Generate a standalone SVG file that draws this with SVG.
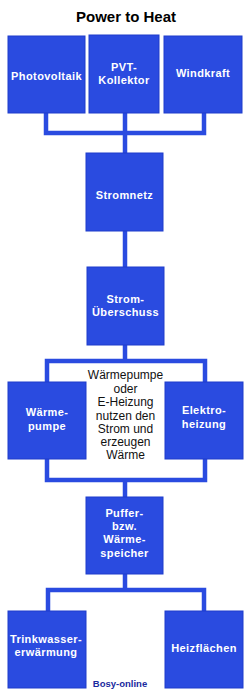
<svg xmlns="http://www.w3.org/2000/svg" width="250" height="692" viewBox="0 0 250 692">
<style>
.box{fill:#2a4be0;stroke:#1f3ccb;stroke-width:1}
.lbl{font-family:"Liberation Sans",Arial,sans-serif;font-weight:bold;font-size:11px;fill:#ffffff;text-anchor:middle;letter-spacing:0.4px}
.line{fill:none;stroke:#2a4be0;stroke-width:4.5;stroke-linecap:square}
.note{font-family:"Liberation Sans",Arial,sans-serif;font-size:12px;fill:#111111;text-anchor:middle}
</style>
<rect width="250" height="692" fill="#ffffff"/>
<text x="126" y="22" font-family="Liberation Sans,Arial,sans-serif" font-weight="bold" font-size="15" fill="#000" text-anchor="middle">Power to Heat</text>
<g id="connectors">
<path class="line" d="M46 114 V133 H204 V114 M125 114 V153"/>
<path class="line" d="M125 231 V267"/>
<path class="line" d="M125 345 V361 M47 382 V361 H205 V382"/>
<path class="line" d="M47 459 V480 H205 V459 M125 480 V497"/>
<path class="line" d="M125 574 V590 M48 611 V590 H204 V611"/>
</g>
<g id="photovoltaik"><rect class="box" x="8" y="36" width="77" height="77"/><text class="lbl" x="46.5" y="80">Photovoltaik</text></g>
<g id="pvt"><rect class="box" x="89" y="35" width="70" height="78"/><text class="lbl" x="124" y="71">PVT-</text><text class="lbl" x="124" y="84">Kollektor</text></g>
<g id="windkraft"><rect class="box" x="164" y="36" width="78" height="77"/><text class="lbl" x="203" y="77">Windkraft</text></g>
<g id="stromnetz"><rect class="box" x="86" y="153" width="77" height="78"/><text class="lbl" x="124.5" y="199">Stromnetz</text></g>
<g id="stromueberschuss"><rect class="box" x="87" y="267" width="77" height="78"/><text class="lbl" x="125.5" y="303">Strom-</text><text class="lbl" x="125.5" y="316">Überschuss</text></g>
<g id="waermepumpe"><rect class="box" x="8" y="382" width="78" height="77"/><text class="lbl" x="47" y="416">Wärme-</text><text class="lbl" x="47" y="430">pumpe</text></g>
<g id="elektroheizung"><rect class="box" x="165" y="382" width="78" height="77"/><text class="lbl" x="204" y="414">Elektro-</text><text class="lbl" x="204" y="428">heizung</text></g>
<g id="note"><text class="note" x="125.5" y="379">Wärmepumpe</text><text class="note" x="125.5" y="392.5">oder</text><text class="note" x="125.5" y="406">E-Heizung</text><text class="note" x="125.5" y="419.5">nutzen den</text><text class="note" x="125.5" y="433">Strom und</text><text class="note" x="125.5" y="446">erzeugen</text><text class="note" x="125.5" y="459">Wärme</text></g>
<g id="puffer"><rect class="box" x="86" y="497" width="77" height="77"/><text class="lbl" x="124.5" y="517">Puffer-</text><text class="lbl" x="124.5" y="530">bzw.</text><text class="lbl" x="124.5" y="543">Wärme-</text><text class="lbl" x="124.5" y="557">speicher</text></g>
<g id="trinkwasser"><rect class="box" x="8" y="611" width="78" height="77"/><text class="lbl" x="46" y="643" letter-spacing="0.1">Trinkwasser-</text><text class="lbl" x="46" y="656">erwärmung</text></g>
<g id="heizflaechen"><rect class="box" x="165" y="611" width="78" height="77"/><text class="lbl" x="204" y="652">Heizflächen</text></g>
<text x="120" y="687" font-family="Liberation Sans,Arial,sans-serif" font-weight="bold" font-size="9.5" fill="#1a2a9e" text-anchor="middle">Bosy-online</text>
</svg>
